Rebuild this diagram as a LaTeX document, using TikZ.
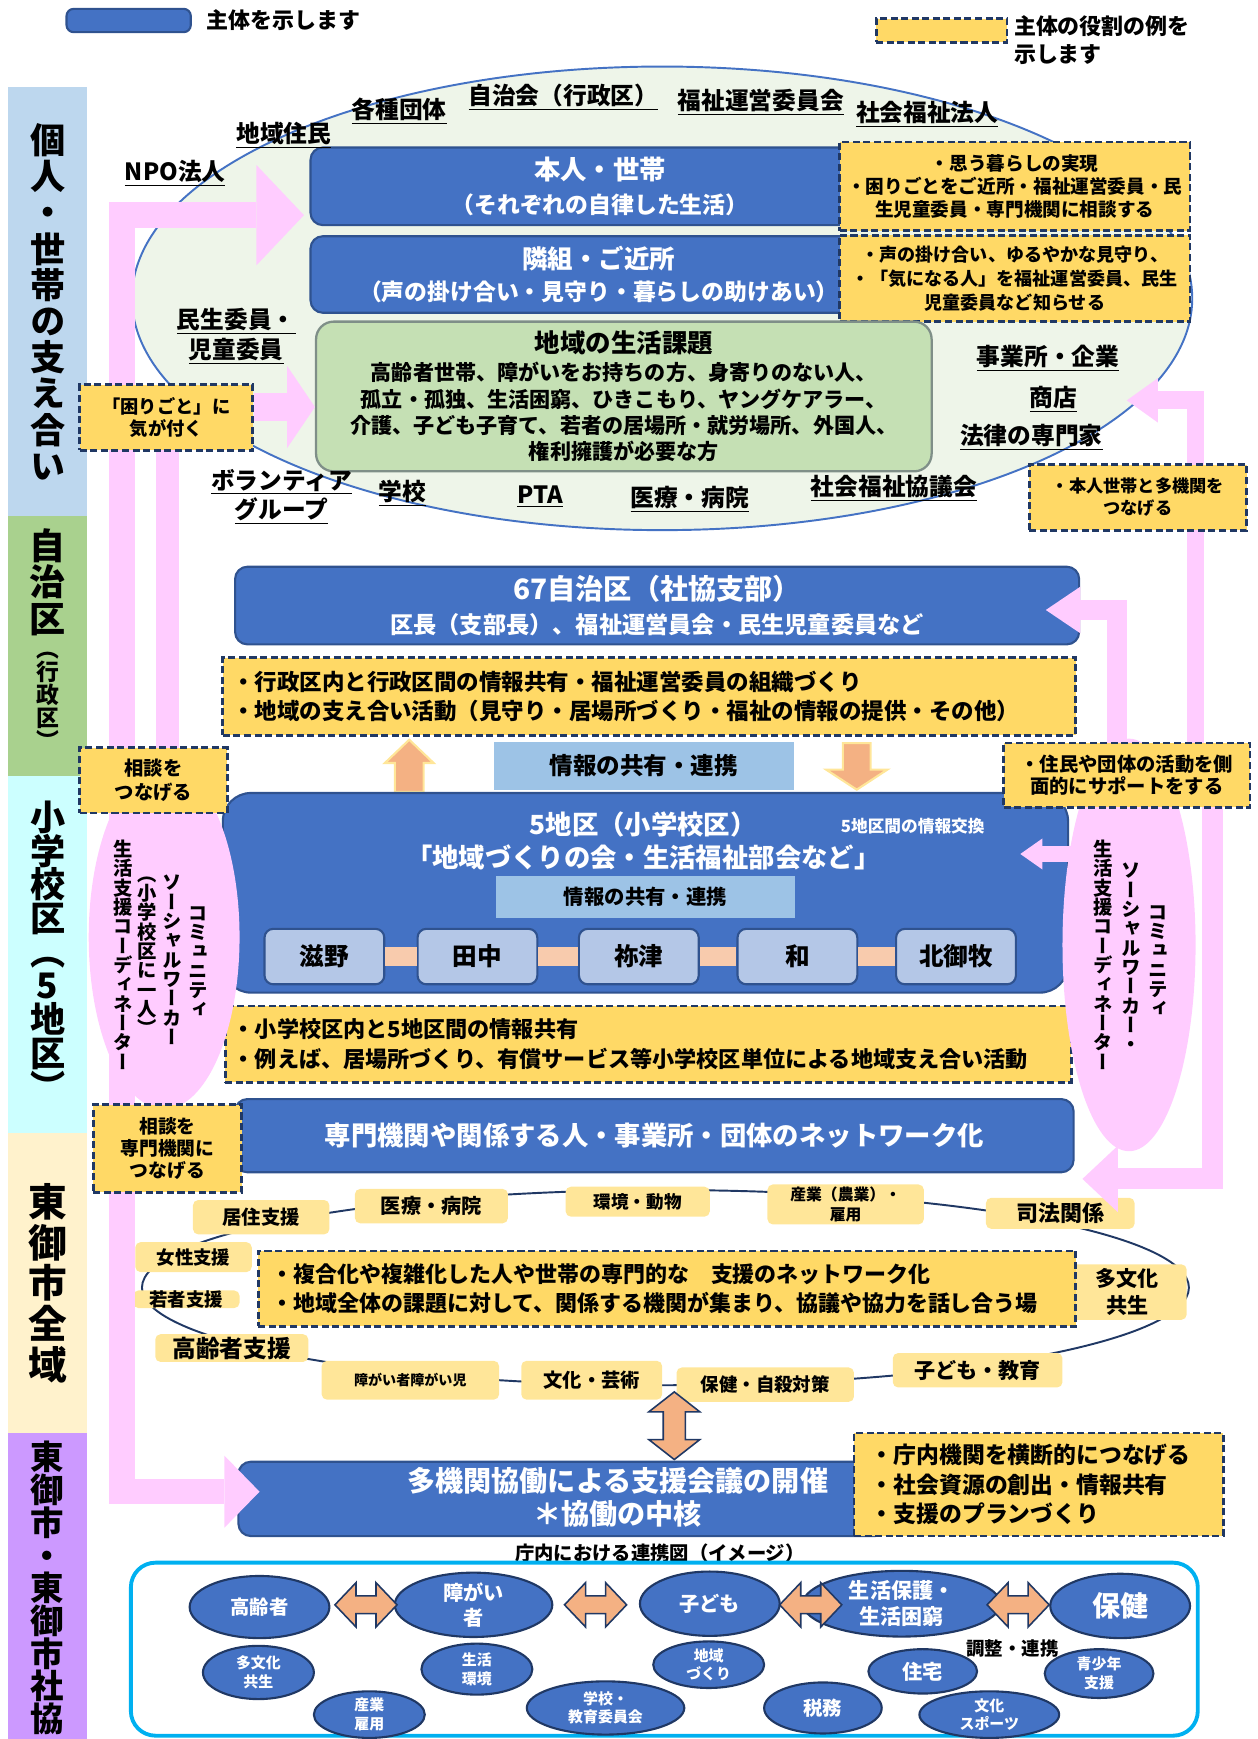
\documentclass[tikz,border=0pt]{standalone}
\usepackage{fontspec}
\setmainfont{Noto Sans CJK JP}
\newfontfamily\tatefont{Noto Sans CJK JP}[RawFeature=+vert]
\usetikzlibrary{arrows.meta,shapes.geometric,calc}

\definecolor{shutaiblue}{HTML}{4472C4}
\definecolor{shutaiedge}{HTML}{2F528F}
\definecolor{yakuyellow}{HTML}{FFD966}
\definecolor{yakuedge}{HTML}{203864}
\definecolor{ellgreen}{HTML}{EEF5E9}
\definecolor{kadaigreen}{HTML}{C5E0B4}
\definecolor{kadaiedge}{HTML}{7F8F88}
\definecolor{pinkarrow}{HTML}{FFCCFF}
\definecolor{kyoyublue}{HTML}{9DC3E6}
\definecolor{chikublue}{HTML}{B4C7E7}
\definecolor{peach}{HTML}{F8CBAD}
\definecolor{orangearr}{HTML}{F4B183}
\definecolor{kikanyellow}{HTML}{FFE699}
\definecolor{bandblue}{HTML}{BDD7EE}
\definecolor{bandgreen}{HTML}{A9D18E}
\definecolor{bandcyan}{HTML}{CCFFFF}
\definecolor{bandbeige}{HTML}{FFF2CC}
\definecolor{bandpurple}{HTML}{CC99FF}
\definecolor{cyanedge}{HTML}{00B0F0}

\newcommand\pxl{0.6313pt}
\newcommand\fs[2][1.25]{\fontsize{#2}{\fpeval{#1*#2}}\selectfont\bfseries}

\ExplSyntaxOn
\NewDocumentCommand \tate { O{1.0} m }
  {
    \vbox
      {
        \baselineskip = #1 em \scan_stop:
        \lineskiplimit = -100pt \scan_stop:
        \lineskip = 0pt \scan_stop:
        \tl_map_inline:nn {#2} { \hbox_to_wd:nn { 1em } { \hss ##1 \hss } }
      }
  }
\ExplSyntaxOff

\begin{document}
\begin{tikzpicture}[x=0.022187cm, y=-0.022187cm,
    sz/.style 2 args={minimum width=#1*\pxl, minimum height=#2*\pxl},
    shutai/.style={draw=shutaiedge, fill=shutaiblue, line width=1.2pt, rounded corners=7pt, text=white, align=center, inner sep=0pt},
    yaku/.style={draw=yakuedge, fill=yakuyellow, line width=1.6pt, dash pattern=on 4pt off 2pt, align=center, inner sep=0pt},
    chiku/.style={draw=shutaiedge, fill=chikublue, line width=1.2pt, rounded corners=5pt, sz={108}{50}, font={\fs{14}}, inner sep=0pt},
    kikan/.style={fill=kikanyellow, rounded corners=3pt, align=center, inner sep=0pt},
    shutaiell/.style={ellipse, draw=yakuedge, fill=shutaiblue, line width=1.2pt, text=white, align=center, inner sep=0pt},
    dantai/.style={align=center, inner sep=0pt, font={\fs{13.5}}},
    tatelabel/.style={inner sep=0pt},
    pinkbar/.style={draw=pinkarrow, line width=#1*\pxl},
    orangeblk/.style={fill=orangearr, draw=kikanyellow, line width=1.2pt},
    dblblk/.style={fill=orangearr, draw=yakuedge, line width=0.9pt},
    harrow/.pic={\draw[dblblk] (-28,0) -- (-9,-20) -- (-9,-8) -- (9,-8) -- (9,-20) -- (28,0) -- (9,20) -- (9,8) -- (-9,8) -- (-9,20) -- cycle;}
  ]
  \useasboundingbox (0,0) rectangle (1134,1568);

  % Left bands for each level
  \fill[bandblue] (7,78) rectangle (78,465);
  \fill[bandgreen] (7,465) rectangle (78,700);
  \fill[bandcyan] (7,700) rectangle (78,1022);
  \fill[bandbeige] (7,1022) rectangle (78,1292);
  \fill[bandpurple] (7,1292) rectangle (78,1568);
  \node[tatelabel, font={\tatefont\fs{20}}] (kojinband) at (43,272) {\tate[1.03]{個人・世帯の支え合い}};
  \node[tatelabel, anchor=north, font={\tatefont\fs{20.5}}] (jichiband) at (43,476) {\tate[1.02]{自治区}};
  \node[tatelabel, anchor=north, font={\tatefont\fs{13}}] (gyoseiband) at (43,588) {\tate{（行政区）}};
  \node[tatelabel, font={\tatefont\fs{20}}] (shogakuband) at (43,857) {\tate[0.96]{小学校区（5地区）}};
  \node[tatelabel, font={\tatefont\fs{22}}] (zenikiband) at (43,1157) {\tate[1.05]{東御市全域}};
  \node[tatelabel, font={\tatefont\fs{19}}] (shakyoband) at (43,1432) {\tate[0.98]{東御市・東御市社協}};

  % Legend
  \node[shutai, sz={112}{21}, rounded corners=4pt] (legshutai) at (116,18.5) {};
  \node[anchor=west, font={\fs{12.5}}] (legshutaitxt) at (181,18) {主体を示します};
  \node[yaku, sz={118}{21}] (legyaku) at (849,27.5) {};
  \node[anchor=north west, align=left, inner sep=0pt, font={\fs[1.28]{12.5}}] (legyakutxt) at (914,14) {主体の役割の例を\\示します};

  % Community ellipse
  \draw[draw=shutaiblue, fill=ellgreen, line width=1.1pt] (597,269) ellipse [x radius=478, y radius=209];

  % Individuals and neighbours
  \node[shutai, sz={522}{70}, font={\fs{13}}] (honin) at (541,168) {{\fs{15}本人・世帯}\\[3pt]（それぞれの自律した生活）};
  \node[yaku, sz={316}{80}, font={\fs[1.22]{10.6}}] (honinyaku) at (915,168) {・思う暮らしの実現\\・困りごとをご近所・福祉運営委員・民\\生児童委員・専門機関に相談する};
  \node[shutai, sz={520}{69}, font={\fs{13}}] (tonari) at (540,247.5) {{\fs{14.5}隣組・ご近所}\\[1.5pt]（声の掛け合い・見守り・暮らしの助けあい）};
  \node[yaku, sz={316}{78}, font={\fs[1.32]{10.3}}] (tonariyaku) at (915,251) {・声の掛け合い、ゆるやかな見守り、\\・「気になる人」を福祉運営委員、民生\\児童委員など知らせる};
  \node[draw=kadaiedge, fill=kadaigreen, line width=1.3pt, rounded corners=10pt, sz={555}{135}, align=center, inner sep=0pt, font={\fs{12}}] (kadai) at (562.5,357.5)
    {{\fs{14.5}地域の生活課題}\\[1pt]高齢者世帯、障がいをお持ちの方、身寄りのない人、\\孤立・孤独、生活困窮、ひきこもり、ヤングケアラー、\\介護、子ども子育て、若者の居場所・就労場所、外国人、\\権利擁護が必要な方};

  % Members of the community
  \foreach \nm/\cx/\cy/\txt in {kakushu/360/100/各種団体, jichikai/508/88/自治会（行政区）,
      fukushiunei/686/92/福祉運営委員会, shafukuhojin/836/103/社会福祉法人, jumin/256/122/地域住民,
      npo/158/156/NPO法人, jigyosho/945/323/事業所・企業, shoten/950/360/商店,
      horitsu/930/394/法律の専門家, gakko/363/445/学校, pta/487/448/PTA,
      iryo/622/450/医療・病院, shakyo/806/440/社会福祉協議会}
    \node[dantai] (\nm) at (\cx,\cy) {\underline{\txt}};
  \node[dantai] (minsei) at (213,303) {\underline{民生委員・}\\\underline{児童委員}};
  \node[dantai] (volunteer) at (254,448) {\underline{ボランティア}\\\underline{グループ}};

  % Self-governing districts
  \node[shutai, sz={761}{70}, font={\fs{13.2}}] (jichiku) at (592.5,546) {{\fs{16}67自治区（社協支部）}\\[3pt]区長（支部長）、福祉運営員会・民生児童委員など};
  \node[yaku, sz={769}{70}, text width=475pt, align=left, font={\fs[1.33]{12.8}}] (jichikuyaku) at (585.5,628) {・行政区内と行政区間の情報共有・福祉運営委員の組織づくり\\・地域の支え合い活動（見守り・居場所づくり・福祉の情報の提供・その他）};
  \node[fill=kyoyublue, sz={271}{43}, inner sep=0pt, font={\fs{13.4}}] (kyoyu) at (580.5,690.5) {情報の共有・連携};
  \draw[orangeblk] (356,714) -- (356,688) -- (347,688) -- (369,667) -- (391,688) -- (382,688) -- (382,714) -- cycle;
  \draw[orangeblk] (760,670) -- (785,670) -- (785,694) -- (800,694) -- (772.5,712) -- (745,694) -- (760,694) -- cycle;

  % Five school districts
  \node[shutai, sz={762}{180}, rounded corners=16pt] (gochiku) at (582,805) {};
  \node[text=white, font={\fs{15}}] (gochikutitle) at (580,743) {5地区（小学校区）};
  \node[text=white, font={\fs{15}}] (gochikusub) at (580,773) {「地域づくりの会・生活福祉部会など」};
  \node[text=white, font={\fs{9.5}}] (koukan) at (823,745) {5地区間の情報交換};
  \node[fill=kyoyublue, sz={270}{38}, inner sep=0pt, font={\fs{11.6}}] (kyoyuin) at (582,809) {情報の共有・連携};
  \foreach \nm/\cx/\txt in {shigeno/292.5/滋野, tanaka/430.5/田中, nezu/576/祢津, kanou/719/和, kitamimaki/862/北御牧}
    \node[chiku] (\nm) at (\cx,862.5) {\txt};
  \foreach \a/\b in {shigeno/tanaka, tanaka/nezu, nezu/kanou, kanou/kitamimaki}
    \draw[draw=peach, line width=17*\pxl] (\a.east) -- (\b.west);
  \node[yaku, sz={763}{69}, text width=473pt, align=left, font={\fs[1.35]{12.6}}] (gochikuyaku) at (584.5,941.5) {・小学校区内と5地区間の情報共有\\・例えば、居場所づくり、有償サービス等小学校区単位による地域支え合い活動};

  % City-wide network
  \node[shutai, sz={756}{66}, font={\fs{15}}] (senmon) at (590,1024) {専門機関や関係する人・事業所・団体のネットワーク化};
  \draw[draw=yakuedge, line width=1.1pt] (600,1161) ellipse [x radius=472, y radius=88];
  \foreach \nm/\cx/\cy/\w/\h/\f/\txt in {kyoju/235.5/1097.5/123/31/11/居住支援,
      iryobyoin/389/1087.5/138/31/11.5/医療・病院, kankyo/575/1083.5/130/27/10/環境・動物,
      sangyo/762.5/1086/141/36/9/{産業（農業）・\\雇用}, shiho/956/1094/134/28/12.5/司法関係,
      josei/174.5/1133.5/105/27/10.5/女性支援, wakamono/168/1171.5/96/15/10.5/若者支援,
      tabunka/1016.5/1165/107/50/12/{多文化\\共生}, koreishien/209/1215.5/138/25/13.5/高齢者支援,
      shogaishien/370/1244.5/160/35/8/障がい者障がい児, bunka/533.5/1244.5/127/35/11/文化・芸術,
      hokenjisatsu/690/1248.5/160/31/10.5/保健・自殺対策, kodomokyoiku/881.5/1235.5/153/31/12/子ども・教育}
    \node[kikan, sz={\w}{\h}, font={\fs{\f}}] (\nm) at (\cx,\cy) {\txt};
  \node[yaku, sz={737}{68}, text width=450pt, align=left, font={\fs[1.31]{12.5}}] (fukugoyaku) at (601.5,1162) {・複合化や複雑化した人や世帯の専門的な　支援のネットワーク化\\・地域全体の課題に対して、関係する機関が集まり、協議や協力を話し合う場};
  \draw[dblblk] (608,1255) -- (631,1273) -- (618,1273) -- (618,1298) -- (631,1298) -- (608,1316) -- (585,1298) -- (598,1298) -- (598,1273) -- (585,1273) -- cycle;

  % City hall and council
  \node[shutai, sz={585}{67}] (takikan) at (507.5,1351.5) {};
  \node[text=white, align=center, font={\fs[1.18]{16}}] (takikantxt) at (557,1350) {多機関協働による支援会議の開催\\＊協働の中核};
  \node[yaku, sz={333}{93}, text width=191pt, align=left, font={\fs[1.29]{13}}] (takikanyaku) at (936.5,1338.5) {・庁内機関を横断的につなげる\\・社会資源の創出・情報共有\\・支援のプランづくり};
  \node[font={\fs{11}}] (renkeizu) at (595,1400) {庁内における連携図（イメージ）};
  \draw[draw=cyanedge, line width=2.2pt, rounded corners=14pt] (118,1409) rectangle (1080,1565);
  \foreach \nm/\cx/\cy/\w/\h/\f/\txt in {kore/234/1449/126/56/11/高齢者,
      shogai/427/1447/142/58/11.5/{障がい\\者}, kodo/640/1446/126/58/11.5/子ども,
      seiho/813/1446/178/58/12/{生活保護・\\生活困窮}, hokenE/1010/1448/126/58/16/保健,
      tabunkaE/233/1508/100/48/8.5/{多文化\\共生}, sangyoE/333/1546/100/42/8.5/{産業\\雇用},
      kankyoE/430/1505/100/46/8.5/{生活\\環境}, gakkoE/546/1540/142/48/8.5/{学校・\\教育委員会},
      chiikiE/639/1501/100/42/8.5/{地域\\づくり}, zeimu/742/1540/106/46/11/税務,
      jutaku/832/1507/98/40/11.5/住宅, bunkaE/892/1546/126/42/8.5/{文化\\スポーツ},
      seishonen/991/1509/98/44/8.5/{青少年\\支援}}
    \node[shutaiell, sz={\w}{\h}, font={\fs{\f}}] (\nm) at (\cx,\cy) {\txt};
  \foreach \ax in {330,537,731,918}
    \pic at (\ax,1447) {harrow};
  \node[font={\fs{10.5}}] (chosei) at (913,1486) {調整・連携};

  % Pink arrows from and to the coordinators
  \draw[pinkbar=23, {Triangle[length=20pt,width=41pt,line width=0pt]}-{Triangle[length=27pt,width=57pt,line width=0pt]}]
    ($(takikan.west)+(20,-6.5)$) -| (110,194) -- ($(honin.west)+(-5,26)$);
  \draw[pinkbar=21] (151,390) -- (151,700);
  \coordinate (shotenin) at (1016,361);
  \draw[pinkbar=16, -{Triangle[length=17.7pt,width=25.3pt,line width=0pt]}] (1078,720) |- (shotenin);
  \draw[pinkbar=18, -{Triangle[length=19.6pt,width=26.5pt,line width=0pt]}] (1007,690) |- ($(jichiku.east)+(-31,4)$);
  \draw[pinkbar=19, -{Triangle[length=20.2pt,width=37.9pt,line width=0pt]}] (1093,715) |- ($(senmon.east)+(7,39)$);
  \draw[pinkbar=14, -{Triangle[length=12.6pt,width=17.7pt,line width=0pt]}] (968,770) -- (gochiku.east |- 0,770) -- ++(-44,0);
  \fill[pinkarrow] (148,845) ellipse [x radius=68, y radius=155];
  \fill[pinkarrow] (1018,852) ellipse [x radius=60, y radius=186];
  \node[tatelabel, anchor=north, font={\tatefont\fs{11}}] (cswleft1) at (179,817) {\tate{コミュニティ}};
  \node[tatelabel, anchor=north, font={\tatefont\fs{11}}] (cswleft2) at (155,789) {\tate{ソーシャルワーカー}};
  \node[tatelabel, anchor=north, font={\tatefont\fs{11}}] (cswleft3) at (133,790) {\tate{（小学校区に一人）}};
  \node[tatelabel, anchor=north, font={\tatefont\fs{11}}] (cswleft4) at (111,757) {\tate{生活支援コーディネーター}};
  \node[tatelabel, anchor=north, font={\tatefont\fs{11}}] (cswright1) at (1044,816) {\tate{コミュニティ}};
  \node[tatelabel, anchor=north, font={\tatefont\fs{11}}] (cswright2) at (1020,778) {\tate{ソーシャルワーカー・}};
  \node[tatelabel, anchor=north, font={\tatefont\fs{11}}] (cswright3) at (995,757) {\tate{生活支援コーディネーター}};

  % Roles of the coordinators
  \node[yaku, sz={156}{59}, font={\fs[1.22]{10.4}}] (komari) at (150,376.5) {「困りごと」に\\気が付く};
  \draw[pinkbar=26, -{Triangle[length=15.8pt,width=46.7pt,line width=0pt]}] ($(komari.east)+(0,-9.5)$) -- ($(kadai.west)+(0,9.5)$);
  \node[yaku, sz={133}{59}, font={\fs[1.26]{11}}] (sodan) at (138.5,703.5) {相談を\\つなげる};
  \node[yaku, sz={134}{79}, font={\fs[1.16]{10.7}}] (sodansenmon) at (151,1035.5) {相談を\\専門機関に\\つなげる};
  \node[yaku, sz={196}{59}, font={\fs[1.29]{9.8}}] (tsunageru) at (1026,448.5) {・本人世帯と多機関を\\つなげる};
  \node[yaku, sz={222}{58}, font={\fs[1.15]{11}}] (juminyaku) at (1016,699) {・住民や団体の活動を側\\面的にサポートをする};
\end{tikzpicture}
\end{document}
